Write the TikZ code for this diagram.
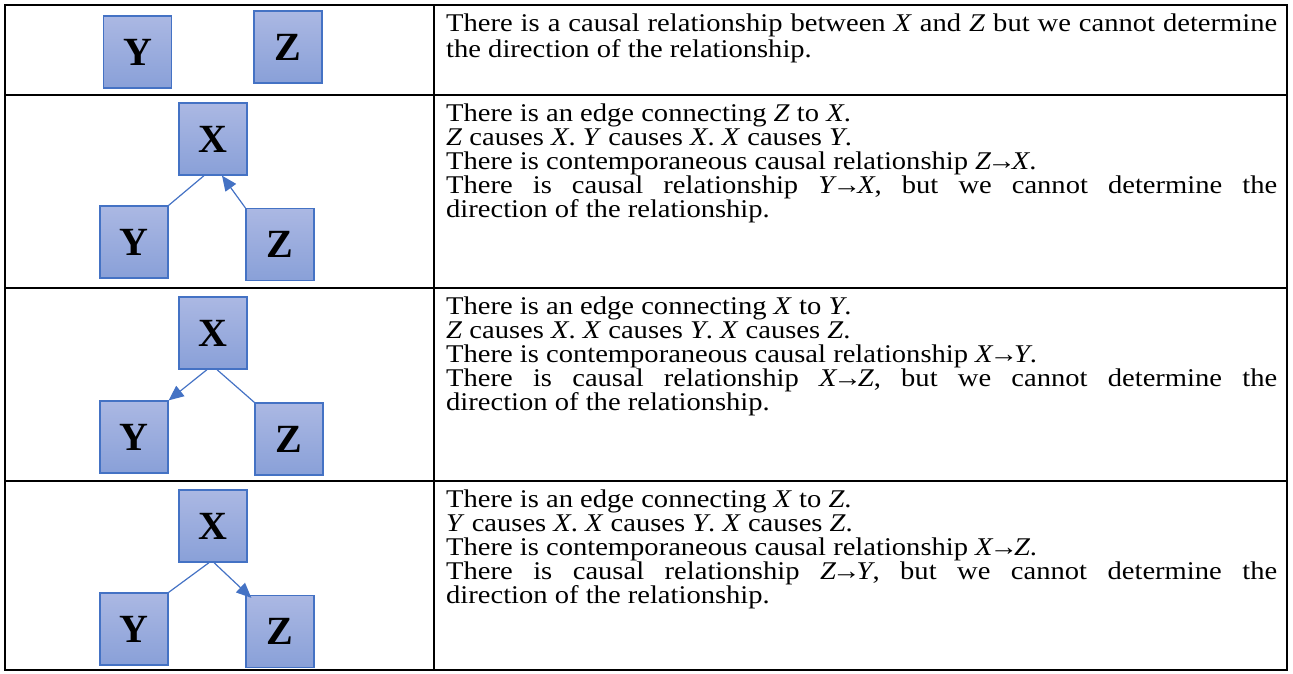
\documentclass[tikz,border=0pt]{standalone}
\usepackage{fontspec}
\setmainfont{Liberation Serif}[FakeStretch=1.12]
\newfontfamily\boxfont{Liberation Serif}
\usetikzlibrary{arrows.meta}
\definecolor{boxtop}{RGB}{171,184,227}
\definecolor{boxbot}{RGB}{137,160,216}
\definecolor{boxline}{RGB}{68,114,196}
\tikzset{
  var/.style={rectangle, minimum width=68pt, minimum height=72pt, inner sep=0pt,
    top color=boxtop, bottom color=boxbot, draw=boxline, line width=1.3pt,
    font=\boxfont\fontsize{40}{40}\selectfont\bfseries},
  link/.style={draw=boxline, line width=1.2pt},
  arr/.style={link, -{Triangle[length=15pt,width=13pt]}},
  txt/.style={anchor=base west, inner sep=0pt, font=\fontsize{25.5}{24}\selectfont},
  tablerule/.style={line width=2pt, draw=black}
}
\newcommand{\jline}[1]{\makebox[831pt][s]{#1}}
\newcommand{\rarr}{\kern-4pt→\kern-4pt}
\begin{document}
\begin{tikzpicture}[x=1pt,y=-1pt]
\useasboundingbox (0,0) rectangle (1293,673);
% table
\draw[tablerule] (5,5) rectangle (1287,670);
\draw[tablerule] (5,95) -- (1287,95);
\draw[tablerule] (5,288) -- (1287,288);
\draw[tablerule] (5,481) -- (1287,481);
\draw[tablerule] (434,5) -- (434,670);

% row 1
\node[var] (y1) at (137.5,52) {Y};
\node[var] (z1) at (288,47) {Z};
\node[txt] (t11) at (446,31) {\jline{There is a causal relationship between \textit{X} and \textit{Z} but we cannot determine}};
\node[txt] (t12) at (446,57.5) {the direction of the relationship.};

% row 2
\node[var] (x2) at (213,139) {X};
\node[var] (y2) at (134,242) {Y};
\node[var] (z2) at (280,244.5) {Z};
\draw[link] (y2.north east) -- ([xshift=-9pt]x2.south);
\draw[arr] (z2.north west) -- ([xshift=9pt]x2.south);
\node[txt] (t21) at (446,121.5) {There is an edge connecting \textit{Z} to \textit{X}.};
\node[txt] (t22) at (446,145.5) {\textit{Z} causes \textit{X}. \textit{Y} causes \textit{X}. \textit{X} causes \textit{Y}.};
\node[txt] (t23) at (446,169.5) {There is contemporaneous causal relationship \textit{Z}\rarr\textit{X}.};
\node[txt] (t24) at (446,193.5) {\jline{There is causal relationship \textit{Y}\rarr\textit{X}, but we cannot determine the}};
\node[txt] (t25) at (446,217.5) {direction of the relationship.};

% row 3
\node[var] (x3) at (213,333) {X};
\node[var] (y3) at (134,437) {Y};
\node[var] (z3) at (289,439) {Z};
\draw[arr] ([xshift=-6pt]x3.south) -- (y3.north east);
\draw[link] ([xshift=4pt]x3.south) -- (z3.north west);
\node[txt] (t31) at (446,314.5) {There is an edge connecting \textit{X} to \textit{Y}.};
\node[txt] (t32) at (446,338.5) {\textit{Z} causes \textit{X}. \textit{X} causes \textit{Y}. \textit{X} causes \textit{Z}.};
\node[txt] (t33) at (446,362.5) {There is contemporaneous causal relationship \textit{X}\rarr\textit{Y}.};
\node[txt] (t34) at (446,386.5) {\jline{There is causal relationship \textit{X}\rarr\textit{Z}, but we cannot determine the}};
\node[txt] (t35) at (446,410.5) {direction of the relationship.};

% row 4
\node[var] (x4) at (213,526) {X};
\node[var] (y4) at (134,629) {Y};
\node[var] (z4) at (280,631.5) {Z};
\draw[link] (y4.north east) -- ([xshift=-4pt]x4.south);
\draw[arr] ([xshift=1pt]x4.south) -- ([xshift=6pt,yshift=-3pt]z4.north west);
\node[txt] (t41) at (446,507.5) {There is an edge connecting \textit{X} to \textit{Z}.};
\node[txt] (t42) at (446,531.5) {\textit{Y} causes \textit{X}. \textit{X} causes \textit{Y}. \textit{X} causes \textit{Z}.};
\node[txt] (t43) at (446,555.5) {There is contemporaneous causal relationship \textit{X}\rarr\textit{Z}.};
\node[txt] (t44) at (446,579.5) {\jline{There is causal relationship \textit{Z}\rarr\textit{Y}, but we cannot determine the}};
\node[txt] (t45) at (446,603.5) {direction of the relationship.};
\end{tikzpicture}
\end{document}
